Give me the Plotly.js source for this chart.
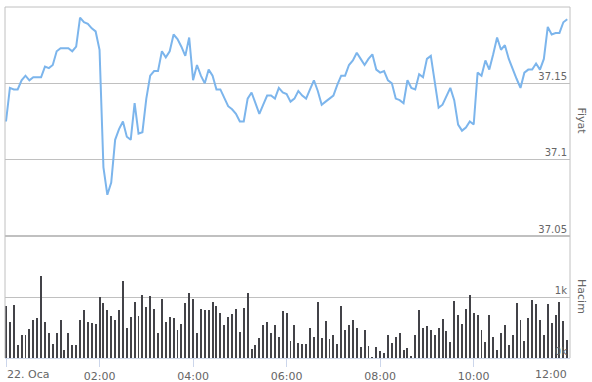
<!DOCTYPE html>
<html>
<head>
<meta charset="utf-8">
<script src="https://cdn.plot.ly/plotly-3.0.1.min.js"></script>
<style>html,body{margin:0;padding:0;background:#fff}#chart{width:592px;height:382px}</style>
</head>
<body>
<div id="chart"></div>
<script>
// 5-minute price series (TL), 22 Jan 00:00 -> 12:00
const price = [
37.125,37.147,37.146,37.146,37.152,37.155,37.152,37.154,37.154,37.154,
37.161,37.160,37.162,37.171,37.173,37.173,37.173,37.171,37.174,37.193,
37.190,37.189,37.186,37.184,37.172,37.095,37.077,37.085,37.113,37.120,
37.125,37.115,37.113,37.137,37.117,37.118,37.140,37.155,37.158,37.158,
37.171,37.167,37.171,37.182,37.179,37.174,37.168,37.180,37.152,37.162,
37.155,37.150,37.159,37.155,37.146,37.146,37.140,37.135,37.133,37.130,
37.125,37.125,37.140,37.144,37.137,37.130,37.136,37.142,37.142,37.140,
37.147,37.144,37.143,37.138,37.140,37.145,37.142,37.140,37.146,37.152,
37.145,37.136,37.138,37.140,37.142,37.149,37.155,37.155,37.162,37.165,
37.170,37.166,37.162,37.166,37.169,37.159,37.157,37.158,37.152,37.150,
37.140,37.139,37.137,37.152,37.147,37.146,37.156,37.154,37.166,37.168,
37.151,37.134,37.136,37.141,37.147,37.139,37.123,37.119,37.121,37.125,
37.123,37.157,37.155,37.165,37.159,37.169,37.180,37.172,37.175,37.166,
37.159,37.153,37.147,37.157,37.159,37.159,37.163,37.159,37.166,37.187,
37.182,37.183,37.183,37.190,37.192];

const volume = [
850,583,863,220,369,385,473,621,649,1346,
583,418,237,418,621,127,418,220,220,621,
781,583,567,550,1000,896,781,682,616,781,
1264,484,665,918,682,1028,830,1011,797,418,
962,583,665,649,451,550,896,1061,962,402,
797,781,786,918,857,731,534,665,715,797,
423,814,1066,155,220,336,534,583,402,534,
352,769,731,286,534,253,237,237,500,352,
918,336,599,319,369,237,846,451,534,616,
500,187,467,204,23,187,121,88,369,253,
352,402,139,171,40,385,781,500,517,451,
385,500,632,435,270,929,698,550,797,1028,
731,698,451,270,698,352,139,402,534,220,
385,896,616,286,649,945,879,616,385,879,
567,698,912,599,303];

const dayDate = "2024-01-22";
const stepMinutes = 5;
const xTickVals = ["00:00","02:00","04:00","06:00","08:00","10:00","12:00"];
const xTickText = ["22. Oca","02:00","04:00","06:00","08:00","10:00","12:00"];
const priceTicks = [37.05, 37.1, 37.15];
const priceTickText = ["37.05","37.1","37.15"];
const volTicks = [0, 1000, 2000];
const volTickText = ["0k","1k",""];

const pad = n => String(n).padStart(2, "0");
const times = price.map((_, i) => {
  const m = i * stepMinutes;
  return `${dayDate} ${pad(Math.floor(m / 60))}:${pad(m % 60)}`;
});
const tickDates = xTickVals.map(t => `${dayDate} ${t}`);

const font = "DejaVu Sans, Arial, sans-serif";
const grid = "#c0c0c0";

const traces = [
  {
    type: "bar", x: times, y: volume, xaxis: "x", yaxis: "y2",
    width: 150000, marker: {color: "#434348", line: {width: 0}},
    hoverinfo: "skip", showlegend: false
  },
  {
    type: "scatter", mode: "lines", x: times, y: price, xaxis: "x", yaxis: "y",
    line: {color: "#7cb5ec", width: 2}, hoverinfo: "skip", showlegend: false
  }
];

const splitY = 122 / 351;

const layout = {
  width: 592, height: 382,
  margin: {l: 5, r: 22, t: 7, b: 24, pad: 0},
  paper_bgcolor: "#ffffff", plot_bgcolor: "#ffffff",
  font: {family: font, size: 11, color: "#666666"},
  showlegend: false,
  bargap: 0,
  xaxis: {
    type: "date", anchor: "y2", domain: [0, 1],
    range: ["2024-01-21 23:58:43", "2024-01-22 12:03:32"],
    showgrid: false, zeroline: false,
    showline: true, linecolor: "#ccd6eb", linewidth: 1,
    ticks: "outside", ticklen: 8, tickcolor: "#ccd6eb", tickwidth: 1,
    tickmode: "array", tickvals: tickDates,
    ticktext: ["", "02:00", "04:00", "06:00", "08:00", "10:00", ""],
    tickfont: {family: font, size: 11, color: "#666666"}
  },
  yaxis: {
    domain: [splitY, 1], range: [37.05, 37.2], side: "right", anchor: "x",
    showgrid: true, gridcolor: grid, gridwidth: 1, zeroline: false, showline: false,
    tickmode: "array", tickvals: priceTicks, ticktext: priceTickText,
    ticklabelposition: "inside top", ticks: "",
    tickfont: {family: font, size: 10, color: "#666666"}
  },
  yaxis2: {
    domain: [0, splitY], range: [0, 2000], side: "right", anchor: "x",
    showgrid: true, gridcolor: grid, gridwidth: 1, zeroline: false, showline: false,
    tickmode: "array", tickvals: volTicks, ticktext: volTickText,
    ticklabelposition: "inside top", ticks: "",
    tickfont: {family: font, size: 10, color: "#666666"}
  },
  shapes: [
    {type: "line", xref: "paper", yref: "paper", x0: 0, x1: 0, y0: 0, y1: 1, line: {color: grid, width: 1}},
    {type: "line", xref: "paper", yref: "paper", x0: 1, x1: 1, y0: 0, y1: 1, line: {color: grid, width: 1}},
    {type: "line", xref: "paper", yref: "paper", x0: 0, x1: 1, y0: 1, y1: 1, line: {color: grid, width: 1}},
    {type: "line", xref: "paper", yref: "paper", x0: 0, x1: 1, y0: splitY, y1: splitY, line: {color: grid, width: 2}}
  ],
  annotations: [
    {text: xTickText[0], xref: "x", yref: "paper", x: tickDates[0], y: 0, xanchor: "left", yanchor: "top",
     yshift: -8, xshift: -1, showarrow: false, font: {family: font, size: 11, color: "#666666"}},
    {text: xTickText[6], xref: "x", yref: "paper", x: tickDates[6], y: 0, xanchor: "right", yanchor: "top",
     yshift: -8, xshift: 2, showarrow: false, font: {family: font, size: 11, color: "#666666"}},
    {text: "Fiyat", xref: "paper", yref: "paper", x: 1.0212, y: (splitY + 1) / 2, textangle: 90,
     xanchor: "center", yanchor: "middle", showarrow: false, font: {family: font, size: 11, color: "#666666"}},
    {text: "Hacim", xref: "paper", yref: "paper", x: 1.0212, y: splitY / 2, textangle: 90,
     xanchor: "center", yanchor: "middle", showarrow: false, font: {family: font, size: 11, color: "#666666"}}
  ]
};

Plotly.newPlot("chart", traces, layout, {displayModeBar: false, staticPlot: true});
</script>
</body>
</html>
